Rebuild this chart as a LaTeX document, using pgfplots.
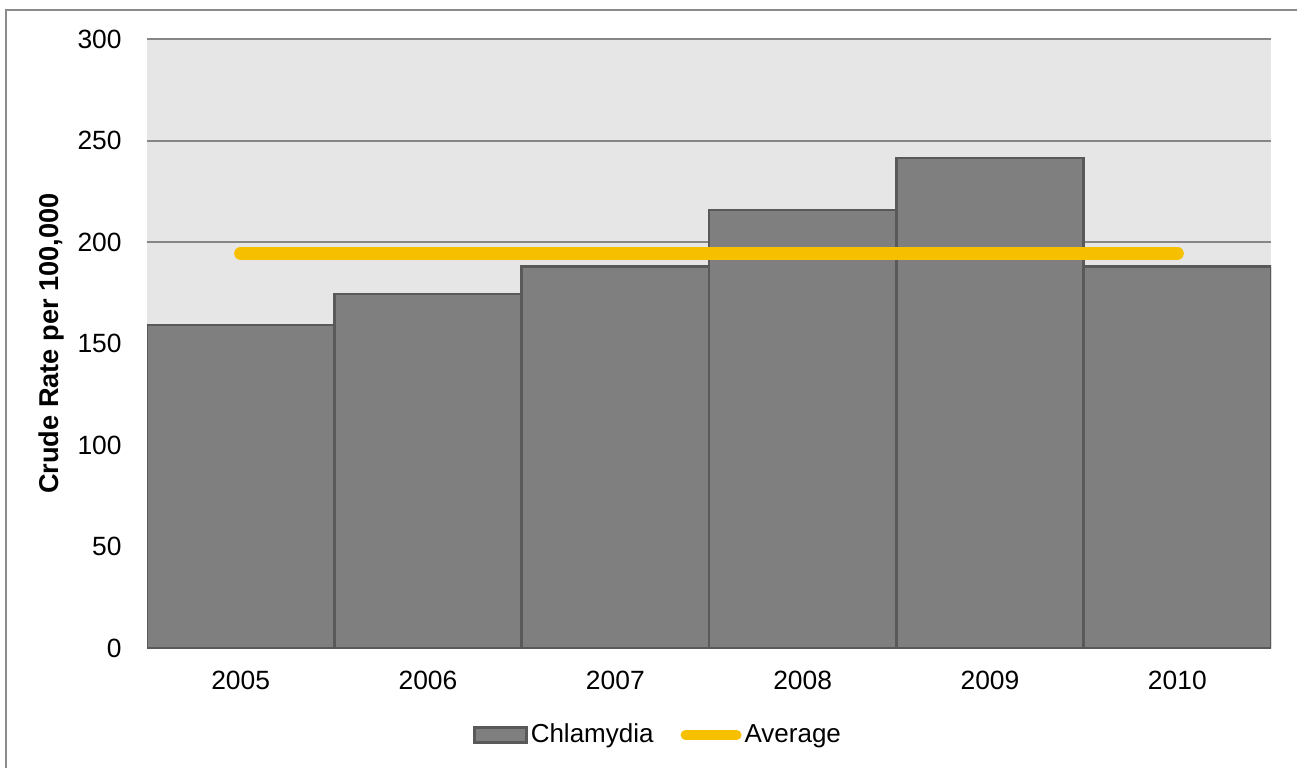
\documentclass[border=0pt]{standalone}
\usepackage{fontspec}
\setmainfont{Liberation Sans}
\usepackage{pgfplots}
\pgfplotsset{compat=1.18}
\definecolor{barfill}{RGB}{127,127,127}
\definecolor{baredge}{RGB}{89,89,89}
\definecolor{plotbg}{RGB}{230,230,230}
\definecolor{gridgray}{RGB}{134,134,134}
\definecolor{avgline}{RGB}{246,192,0}
\definecolor{framegray}{RGB}{140,140,140}
\pgfplotsset{
  barlegend/.style={legend image code/.code={\draw[##1] (0pt,-3.75pt) rectangle (26pt,3.75pt);}},
  avglegend/.style={legend image code/.code={\draw[##1, line width=5pt] (2.5pt,0pt) -- (28pt,0pt);}},
}

\begin{document}
\begin{tikzpicture}
\useasboundingbox (0,0) rectangle (648.5pt,384pt);
\draw[framegray, line width=1pt] (3pt,0pt) -- (3pt,379pt) -- (648.5pt,379pt);
\begin{axis}[
  at={(73.5pt,60pt)}, anchor=south west,
  width=562pt, height=304.5pt, scale only axis,
  xmin=-0.5, xmax=5.5, ymin=0, ymax=300,
  xtick={0,1,2,3,4,5},
  xticklabels={2005,2006,2007,2008,2009,2010},
  ytick={0,50,100,150,200,250,300},
  ymajorgrids, grid style={gridgray, line width=1pt},
  major tick length=0pt,
  axis background/.style={fill=plotbg},
  axis x line*=bottom, axis y line*=left,
  x axis line style={framegray, line width=1pt, -},
  y axis line style={draw=none},
  /pgf/number format/assume math mode=true,
  every tick label/.append style={font=\fontsize{13.2}{15}\selectfont},
  yticklabel style={anchor=east, inner sep=0pt, xshift=-12.5pt},
  xticklabel style={anchor=north, inner sep=0pt, yshift=-11.5pt},
  ylabel={Crude Rate per 100,000},
  ylabel style={at={(axis description cs:0,0.5)}, anchor=center, yshift=48pt,
    font=\bfseries\fontsize{13.6}{15}\selectfont},
  legend columns=2,
  legend style={at={(0.29,-0.1429)}, anchor=west, draw=none, fill=none,
    inner sep=0pt, font=\fontsize{13}{15}\selectfont,
    nodes={inner sep=1.5pt},
    /tikz/every even column/.append style={column sep=12pt}},
]
\addplot[ybar, bar width=1, fill=barfill, draw=baredge, line width=1.2pt, barlegend]
  coordinates {(0,159) (1,174.3) (2,188) (3,215.8) (4,241.3) (5,188)};
\addlegendentry{Chlamydia}
\addplot[avgline, line width=6.5pt, line cap=round, avglegend]
  coordinates {(0,194.4) (5,194.4)};
\addlegendentry{Average}
\end{axis}
\end{tikzpicture}
\end{document}
